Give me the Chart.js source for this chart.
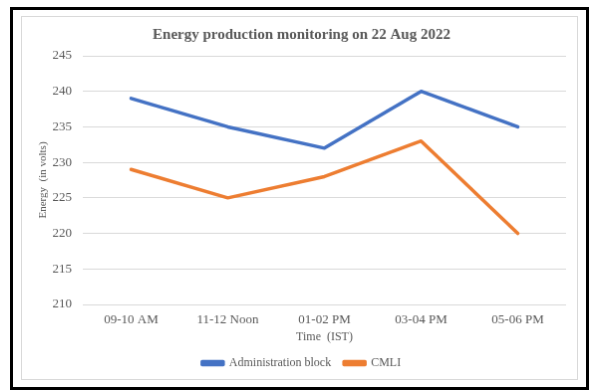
<!DOCTYPE html>
<html>
<head>
<meta charset="utf-8">
<script src="https://cdn.jsdelivr.net/npm/chart.js@4.4.1/dist/chart.umd.min.js"></script>
<style>
  html, body { margin: 0; padding: 0; background: #fff; }
  body { width: 590px; height: 390px; position: relative; overflow: hidden; }
  #frame {
    position: absolute; left: 10px; top: 7px; width: 579px; height: 383px;
    box-sizing: border-box; border: 3px solid #000;
  }
  #chart {
    position: absolute; left: 21px; top: 16px;
    border: 1px solid #d9d9d9;
  }
</style>
</head>
<body>
<div id="frame"></div>
<canvas id="chart" width="557" height="364"></canvas>
<script>
// Hourly slots of the day
const timeSlots = ['09-10 AM', '11-12 Noon', '01-02 PM', '03-04 PM', '05-06 PM'];
// Readings per site (volts)
const adminBlock = [239, 235, 232, 240, 235];
const cmli = [229, 225, 228, 233, 220];
// Value axis
const yMin = 210;
const yMax = 245;
const yStep = 5;

const serif = '"Liberation Serif", "Times New Roman", serif';
const textGrey = '#595959';

new Chart(document.getElementById('chart'), {
  type: 'line',
  data: {
    labels: timeSlots,
    datasets: [
      {
        label: 'Administration block',
        data: adminBlock,
        borderColor: '#4472C4',
        backgroundColor: '#4472C4',
        borderWidth: 3.5,
        pointRadius: 0,
        borderCapStyle: 'round',
        borderJoinStyle: 'round',
        tension: 0
      },
      {
        label: 'CMLI',
        data: cmli,
        borderColor: '#ED7D31',
        backgroundColor: '#ED7D31',
        borderWidth: 3.5,
        pointRadius: 0,
        borderCapStyle: 'round',
        borderJoinStyle: 'round',
        tension: 0
      }
    ]
  },
  options: {
    responsive: false,
    animation: false,
    layout: { padding: { left: 15, right: 11, top: 0, bottom: 0 } },
    plugins: {
      title: {
        display: true,
        text: 'Energy production monitoring on 22 Aug 2022',
        color: textGrey,
        font: { family: serif, size: 15, weight: 'bold' },
        padding: { top: 9, bottom: 12 }
      },
      legend: {
        position: 'bottom',
        labels: {
          color: textGrey,
          font: { family: serif, size: 12 },
          boxWidth: 21,
          boxHeight: 3,
          padding: 13
        }
      },
      tooltip: { enabled: false }
    },
    scales: {
      x: {
        offset: true,
        grid: { display: false, drawTicks: false },
        border: { display: false },
        ticks: {
          color: textGrey,
          font: { family: serif, size: 13 },
          padding: 8,
          maxRotation: 0
        },
        title: {
          display: true,
          text: 'Time  (IST)',
          color: textGrey,
          font: { family: serif, size: 12 },
          padding: { top: 0, bottom: 0 }
        },
        afterFit(scale) { scale.height = 40; }
      },
      y: {
        min: yMin,
        max: yMax,
        grid: { color: '#d9d9d9', lineWidth: 1, drawTicks: false },
        border: { display: false },
        ticks: {
          stepSize: yStep,
          color: textGrey,
          font: { family: serif, size: 13 },
          padding: 11
        },
        title: {
          display: true,
          text: 'Energy  (in volts)',
          color: textGrey,
          font: { family: serif, size: 11 },
          padding: { top: 0, bottom: 0 }
        },
        afterFit(scale) { scale.width = 46; }
      }
    }
  }
});
</script>
</body>
</html>
